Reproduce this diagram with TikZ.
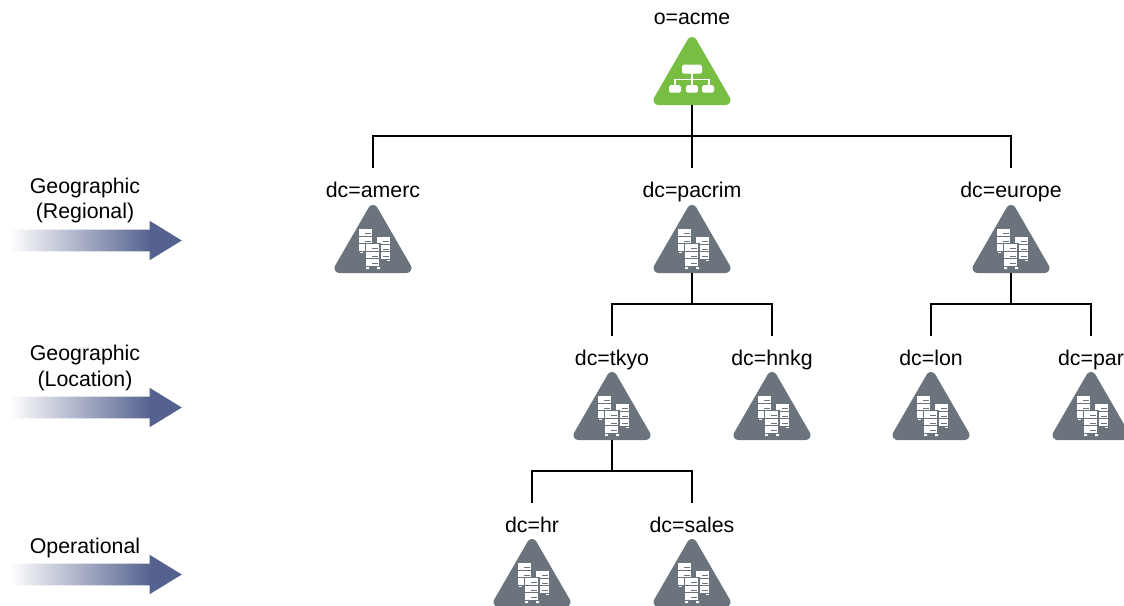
\documentclass[tikz,border=0pt]{standalone}
\usepackage{fontspec}
\setmainfont{Liberation Sans}
\usepackage{xcolor}
\usetikzlibrary{shapes.geometric,shapes.arrows}
\definecolor{acmegreen}{HTML}{78BE43}
\definecolor{srvgrey}{HTML}{6B747D}
\definecolor{fadeblue}{HTML}{55628F}
\pgfdeclarehorizontalshading{arrow-fade}{100bp}{color(0bp)=(white); color(25bp)=(white); color(66bp)=(fadeblue); color(100bp)=(fadeblue)}
\tikzset{
    tri-point/.style={
        regular polygon,
        regular polygon sides=3,
        inner sep=0pt,
        outer sep=3.75pt,
        minimum size=58pt,
        line width=7.5pt,
        line join=round
    },
    srv-point/.style={
        tri-point,
        draw=srvgrey,
        fill=srvgrey
    },
    org-point/.style={
        tri-point,
        draw=acmegreen,
        fill=acmegreen
    },
    dn-label/.style={
        font=\fontsize{16}{19}\selectfont,
        text height=15pt,
        text depth=4pt,
        minimum height=33pt,
        inner sep=0pt
    },
    side-label/.style={
        font=\fontsize{16}{19}\selectfont,
        align=center,
        inner sep=0pt
    },
    fade-arrow/.style={
        single arrow,
        shade,
        shading=arrow-fade,
        text height=15.75pt,
        text depth=0pt,
        minimum height=129pt,
        minimum width=29.25pt,
        single arrow head extend=6.75pt,
        single arrow tip angle=63,
        inner sep=0pt
    },
    tree-edge/.style={
        draw=black,
        line width=2pt
    },
    pics/srv-unit/.style={
        code={
            \fill[white] (0,0) rectangle (13,6.8);
            \draw[srvgrey,line width=0.7pt] (6,4.6) -- (11.5,4.6);
        }
    },
    pics/srv-rack/.style={
        code={
            \pic at (0,0) {srv-unit};
            \pic at (0,7.8) {srv-unit};
            \pic at (0,15.6) {srv-unit};
        }
    },
    pics/srv-icon/.style={
        code={
            \pic at (-14,-20) {srv-rack};
            \fill[white] (-13.5,3.2) rectangle (-10.5,4.5);
            \pic at (4,-12) {srv-rack};
            \fill[white] (13.5,11.2) rectangle (16.5,12.5);
            \fill[srvgrey] (-8,-6) rectangle (8,18);
            \pic at (-7,-5) {srv-rack};
            \fill[white] (-7,18.4) rectangle (-4,20.5) (4,18.4) rectangle (7,20.5);
        }
    },
    pics/org-icon/.style={
        code={
            \draw[white,line width=0.9pt] (0,-8) -- (0,6) (-17,6) -- (-17,-1) -- (17,-1) -- (17,6);
            \fill[white,rounded corners=1.2pt] (-10,-16) rectangle (10,-7);
            \fill[white,rounded corners=1.2pt] (-23,4.5) rectangle (-11,12);
            \fill[white,rounded corners=1.2pt] (-6,4.5) rectangle (6,12);
            \fill[white,rounded corners=1.2pt] (10,4.5) rectangle (22,12);
        }
    }
}

\begin{document}
\begin{tikzpicture}[x=0.75pt,y=-0.75pt]
    \useasboundingbox (0,0) rectangle (1124,606);
    % directory tree
    \node [org-point] (acme) at (692,80.7) {};
    \node [srv-point,node distance=126pt,below of=acme] (pacrim) {};
    \node [srv-point,node distance=239.25pt,left of=pacrim] (amerc) {};
    \node [srv-point,node distance=239.25pt,right of=pacrim] (europe) {};
    \node [srv-point,node distance=125.25pt,below of=pacrim,xshift=-60pt] (tkyo) {};
    \node [srv-point,node distance=125.25pt,below of=pacrim,xshift=60pt] (hnkg) {};
    \node [srv-point,node distance=125.25pt,below of=europe,xshift=-60pt] (lon) {};
    \node [srv-point,node distance=125.25pt,below of=europe,xshift=60pt] (par) {};
    \node [srv-point,node distance=125.25pt,below of=tkyo,xshift=-60pt] (hr) {};
    \node [srv-point,node distance=125.25pt,below of=tkyo,xshift=60pt] (sales) {};
    \pic at (acme) {org-icon};
    \foreach \n in {pacrim,amerc,europe,tkyo,hnkg,lon,par,hr,sales}
        \pic at (\n) {srv-icon};
    % labels
    \node [dn-label,node distance=47.75pt,above of=acme] (l-acme) {o=acme};
    \node [dn-label,node distance=44pt,above of=amerc] (l-amerc) {dc=amerc};
    \node [dn-label,node distance=44pt,above of=pacrim] (l-pacrim) {dc=pacrim};
    \node [dn-label,node distance=44pt,above of=europe] (l-europe) {dc=europe};
    \node [dn-label,node distance=43pt,above of=tkyo] (l-tkyo) {dc=tkyo};
    \node [dn-label,node distance=43pt,above of=hnkg] (l-hnkg) {dc=hnkg};
    \node [dn-label,node distance=43pt,above of=lon] (l-lon) {dc=lon};
    \node [dn-label,node distance=43pt,above of=par] (l-par) {dc=par};
    \node [dn-label,node distance=43pt,above of=hr] (l-hr) {dc=hr};
    \node [dn-label,node distance=43pt,above of=sales] (l-sales) {dc=sales};
    % connectors
    \draw [tree-edge] (acme.south) -- ++(0,31) -| (l-amerc.north);
    \draw [tree-edge] (acme.south) -- (l-pacrim.north);
    \draw [tree-edge] (acme.south) -- ++(0,31) -| (l-europe.north);
    \draw [tree-edge] (pacrim.south) -- ++(0,31) -| (l-tkyo.north);
    \draw [tree-edge] (pacrim.south) -- ++(0,31) -| (l-hnkg.north);
    \draw [tree-edge] (europe.south) -- ++(0,31) -| (l-lon.north);
    \draw [tree-edge] (europe.south) -- ++(0,31) -| (l-par.north);
    \draw [tree-edge] (tkyo.south) -- ++(0,31) -| (l-hr.north);
    \draw [tree-edge] (tkyo.south) -- ++(0,31) -| (l-sales.north);
    % side arrows
    \node [fade-arrow] (a-regional) at (87,240.5) {};
    \node [fade-arrow] (a-location) at (87,407.5) {};
    \node [fade-arrow] (a-operational) at (87,574.5) {};
    \node [side-label] (t-regional) at (85,200.5) {Geographic\\(Regional)};
    \node [side-label] (t-location) at (85,368) {Geographic\\(Location)};
    \node [side-label] (t-operational) at (85,548) {Operational};
\end{tikzpicture}
\end{document}
